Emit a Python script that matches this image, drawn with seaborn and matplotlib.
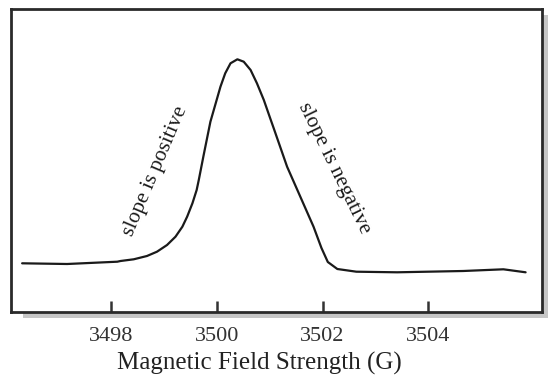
import numpy as np
import pandas as pd
import matplotlib
matplotlib.use('Agg')
import matplotlib.pyplot as plt
import seaborn as sns
from matplotlib.patches import Rectangle

# EPR absorption line (field in G, signal in arbitrary units)
field = [3496.32, 3497.17, 3498.12, 3498.18, 3498.43, 3498.68, 3498.87, 3499.06,
         3499.22, 3499.35, 3499.44, 3499.54, 3499.62, 3499.66, 3499.75, 3499.88,
         3499.98, 3500.07, 3500.16, 3500.26, 3500.39, 3500.51, 3500.64, 3500.76,
         3500.89, 3501.02, 3501.08, 3501.33, 3501.58, 3501.83, 3501.98, 3502.10,
         3502.28, 3502.64, 3503.02, 3503.41, 3504.66, 3505.42, 3505.84]
signal = [0.484, 0.477, 0.500, 0.507, 0.524, 0.557, 0.600, 0.667,
          0.750, 0.850, 0.950, 1.084, 1.217, 1.317, 1.560, 1.900,
          2.084, 2.250, 2.384, 2.484, 2.524, 2.500, 2.417, 2.284,
          2.117, 1.920, 1.830, 1.450, 1.150, 0.850, 0.637, 0.497,
          0.427, 0.400, 0.397, 0.394, 0.407, 0.424, 0.394]
tick_values = [3498, 3500, 3502, 3504]
annotations = ['slope is positive', 'slope is negative']

sns.set_theme(style='white')
plt.rcParams['font.family'] = ['Liberation Serif', 'DejaVu Serif']

df = pd.DataFrame({'field': field, 'signal': signal})

fig = plt.figure(figsize=(5.5, 3.75), dpi=100)
W, H = 550.0, 375.0

# drop shadow behind the frame
fig.patches.append(Rectangle((23 / W, (H - 318) / H), 525 / W, 303 / H,
                             transform=fig.transFigure, facecolor='#c6c6c6',
                             edgecolor='none', zorder=0))

ax = fig.add_axes([10.5 / W, (H - 311.7) / H, 531.5 / W, 303.2 / H])
ax.set_facecolor('white')
ax.set_zorder(1)

sns.lineplot(data=df, x='field', y='signal', ax=ax, color='#1a1a1a',
             linewidth=1.6, sort=False, solid_joinstyle='round',
             solid_capstyle='round')

ax.set_xlim(3496.10, 3506.15)
ax.set_ylim(0, 3.032)
ax.set_xticks(tick_values)
ax.set_xticklabels([str(t) for t in tick_values])
ax.set_yticks([])
ax.set_ylabel('')
ax.tick_params(axis='x', direction='in', length=8, width=1.8, color='#333333',
               labelsize=16, labelcolor='#333333', pad=11, bottom=True)
for s in ax.spines.values():
    s.set_linewidth(2.0)
    s.set_color('#2a2a2a')

ax.set_xlabel('Magnetic Field Strength (G)', fontsize=18, color='#222222')
ax.xaxis.label.set_verticalalignment('baseline')
ax.xaxis.set_label_coords(0.469, -0.19)

ax.text(3498.84, 1.40, annotations[0], rotation=67, ha='center', va='center',
        fontsize=15.5, color='#1a1a1a', rotation_mode='anchor')
ax.text(3502.21, 1.437, annotations[1], rotation=-64, ha='center', va='center',
        fontsize=15.5, color='#1a1a1a', rotation_mode='anchor')

fig.savefig('out.png', dpi=100)
